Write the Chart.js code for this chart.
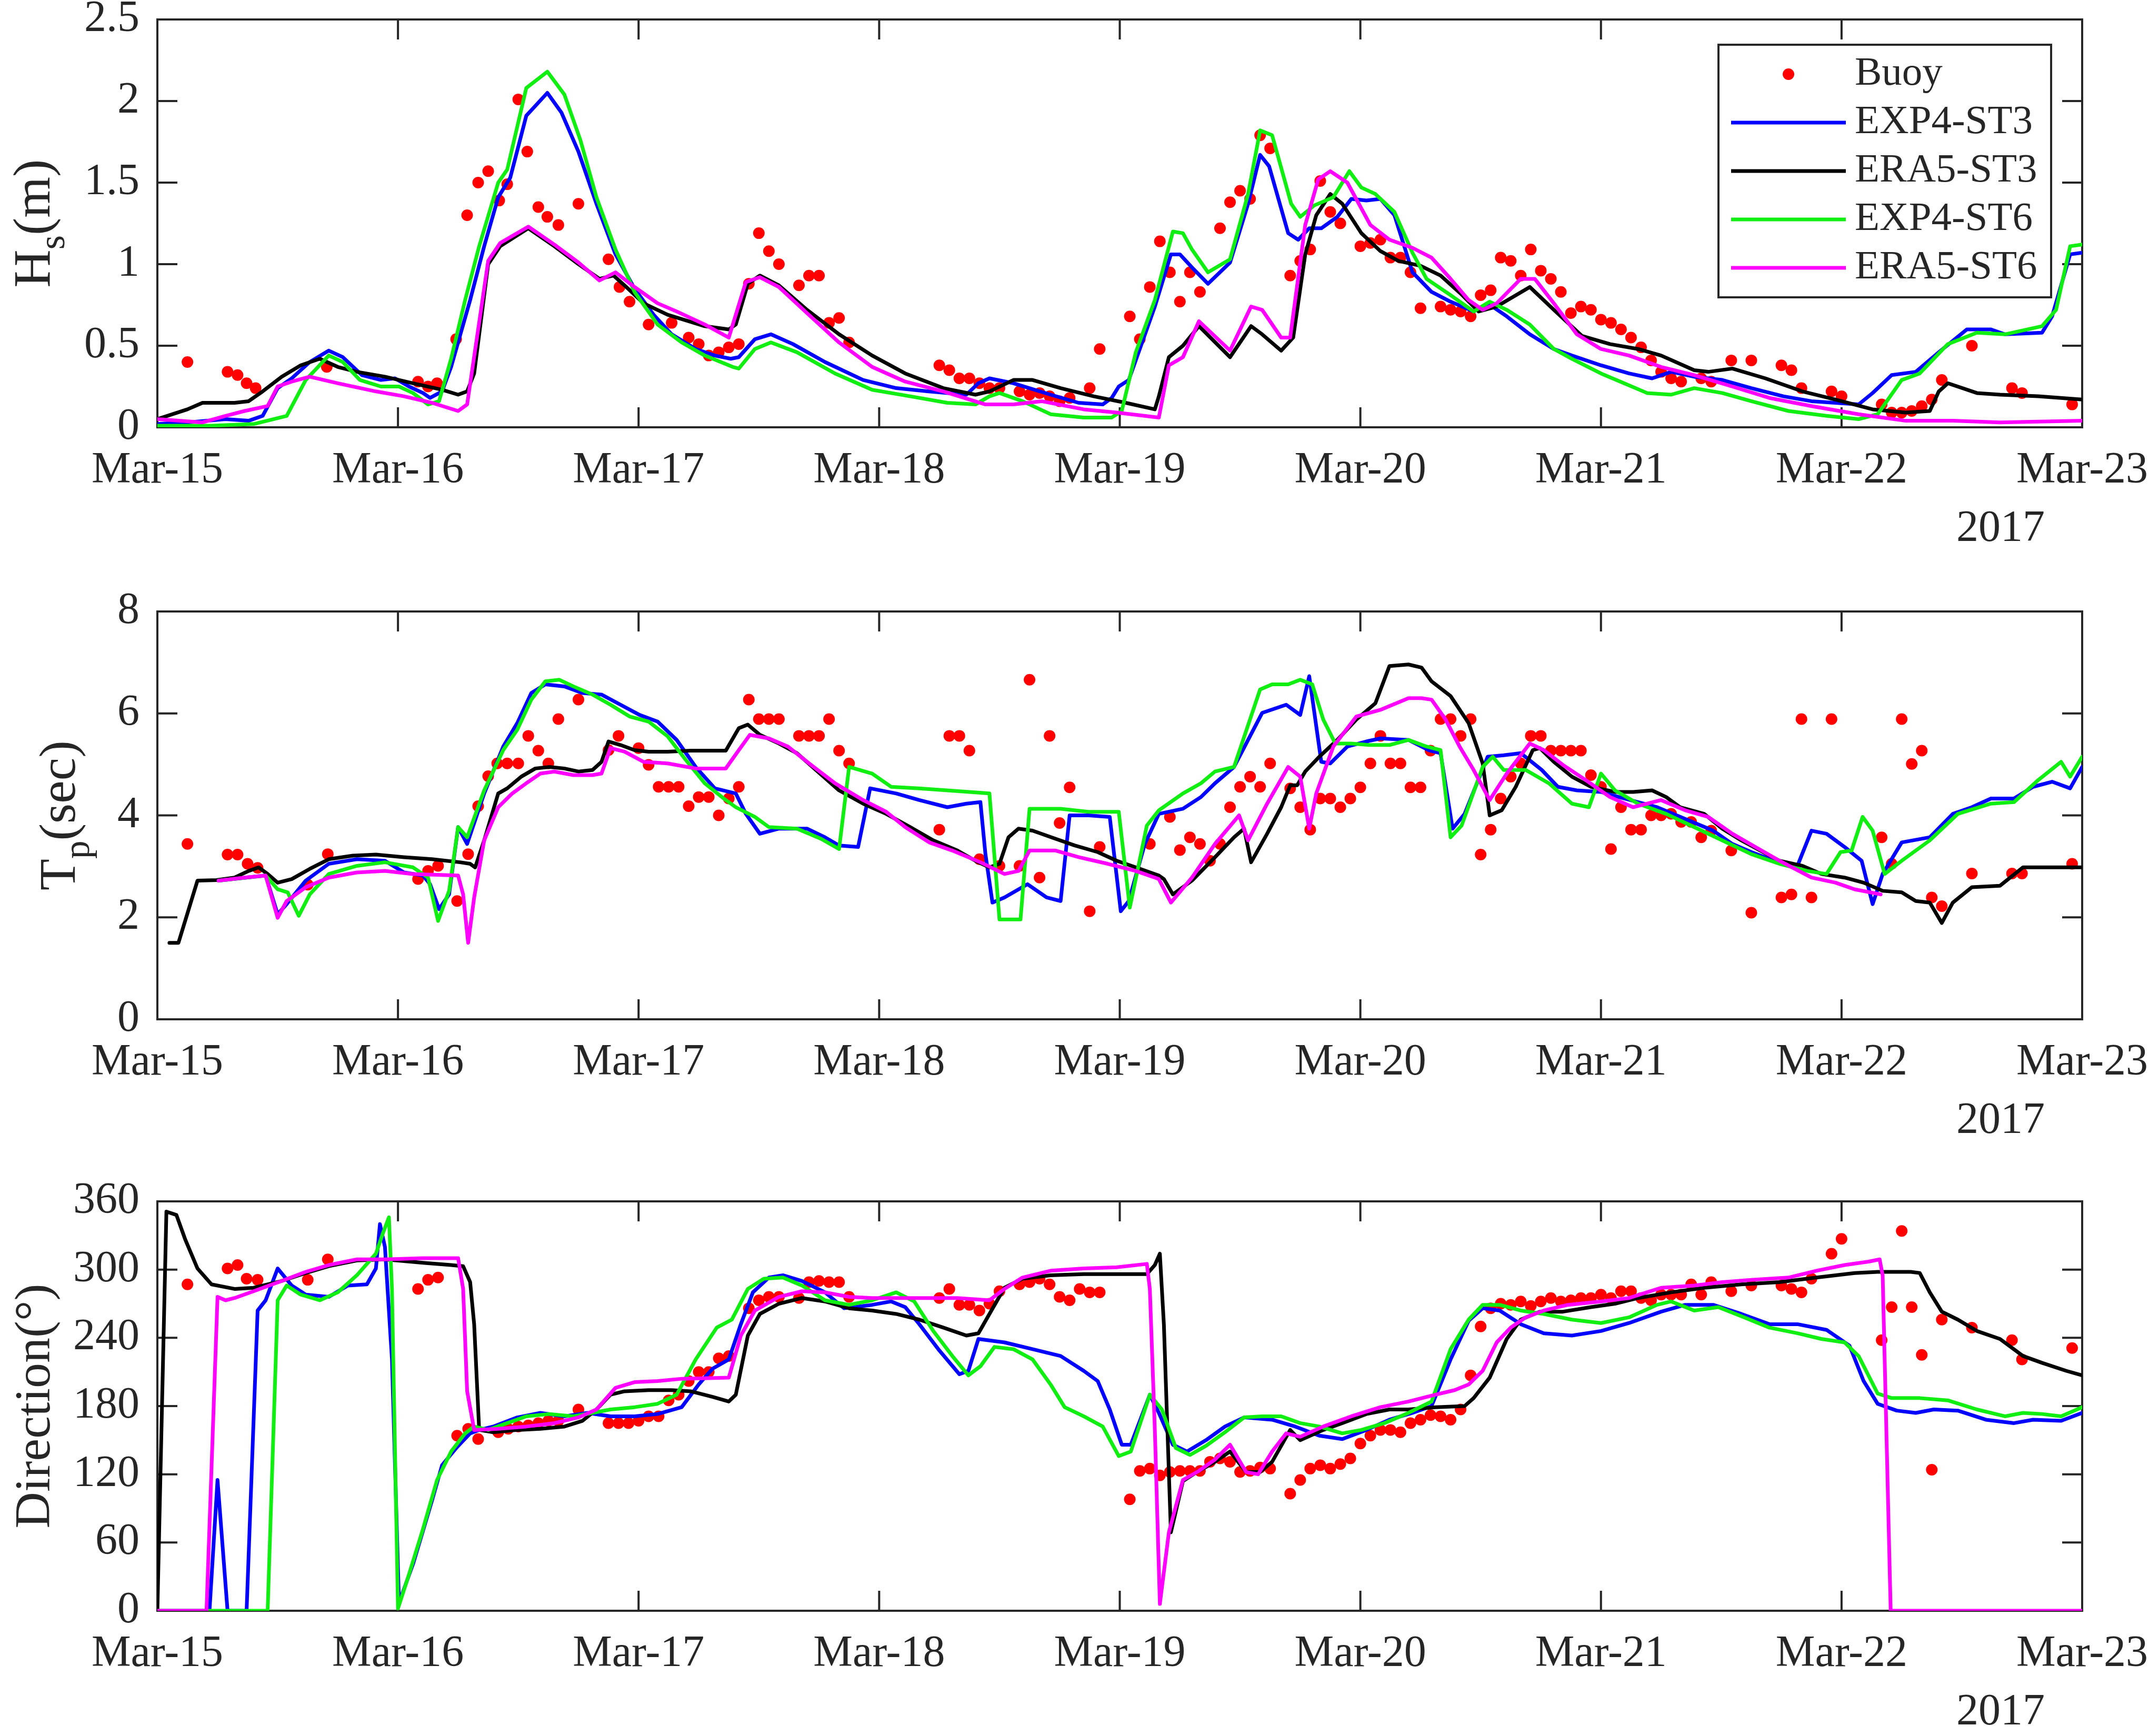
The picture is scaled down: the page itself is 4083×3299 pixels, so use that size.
<!DOCTYPE html>
<html><head><meta charset="utf-8">
<script src="https://cdn.jsdelivr.net/npm/chart.js@4.4.1/dist/chart.umd.min.js"></script>
<style>
html,body{margin:0;padding:0;background:#fff;}
body{width:4083px;height:3299px;position:relative;overflow:hidden;font-family:"Liberation Serif","DejaVu Serif",serif;}
canvas{position:absolute;left:0;}
</style></head><body>
<canvas id="c1" width="4083" height="1124" style="top:0px;width:4083px;height:1124px"></canvas>
<canvas id="c2" width="4083" height="1124" style="top:1124px;width:4083px;height:1124px"></canvas>
<canvas id="c3" width="4083" height="1051" style="top:2248px;width:4083px;height:1051px"></canvas>
<script>
// ---- tick labels / names ----
const dayLabels = ['Mar-15','Mar-16','Mar-17','Mar-18','Mar-19','Mar-20','Mar-21','Mar-22','Mar-23'];
const yearLabel = '2017';
const seriesNames = ['Buoy','EXP4-ST3','ERA5-ST3','EXP4-ST6','ERA5-ST6'];
// time in hours since Mar-15 00:00, value

// ---- Panel 1: Hs (m) ----
const hsBuoy = [[3,0.40],[7,0.34],[8,0.32],[8.9,0.27],[9.8,0.24],[16.9,0.37],[26,0.28],[27,0.25],[27.9,0.27],[29.8,0.54],[30.9,1.30],[32,1.50],[33,1.57],[34.1,1.39],[34.9,1.49],[36,2.01],[36.9,1.69],[38,1.35],[38.9,1.29],[40,1.24],[42,1.37],[45,1.03],[46.1,0.86],[47.1,0.77],[49,0.63],[51.3,0.64],[53,0.55],[54,0.51],[55,0.44],[56,0.46],[57,0.49],[58,0.51],[59,0.88],[60,1.19],[61,1.08],[62,1.0],[64,0.87],[65,0.93],[66,0.93],[67,0.64],[68,0.67],[69,0.52],[78,0.38],[79,0.35],[80,0.30],[81,0.30],[82,0.27],[83,0.24],[84,0.24],[86,0.22],[87,0.20],[88,0.21],[89,0.19],[90,0.16],[91,0.18],[93,0.24],[94,0.48],[97,0.68],[98,0.54],[99,0.86],[100,1.14],[101,0.95],[102,0.77],[103,0.95],[104,0.83],[106,1.22],[107,1.38],[108,1.45],[109,1.40],[110,1.79],[111,1.71],[113,0.93],[114,1.02],[115,1.09],[116,1.51],[117,1.32],[118,1.25],[120,1.11],[121,1.13],[122,1.15],[123,1.04],[124,1.04],[125,0.95],[126,0.73],[128,0.74],[129,0.72],[130,0.71],[131,0.68],[132,0.81],[133,0.84],[134,1.04],[135,1.02],[136,0.93],[137,1.09],[138,0.96],[139,0.91],[140,0.83],[141,0.70],[142,0.74],[143,0.72],[144,0.66],[145,0.64],[146,0.60],[147,0.55],[148,0.49],[149,0.41],[150,0.34],[151,0.30],[152,0.28],[154,0.30],[155,0.28],[157,0.41],[159,0.41],[162,0.38],[163,0.35],[164,0.24],[167,0.22],[168,0.19],[172,0.14],[173,0.09],[174,0.09],[175,0.10],[176,0.13],[177,0.17],[178,0.29],[181,0.50],[185,0.24],[186,0.21],[191,0.14]];
const hsExp4St3 = [[0,0.02],[3,0.03],[6.8,0.05],[9.1,0.04],[10.5,0.07],[12,0.24],[13.4,0.30],[15.2,0.40],[17.1,0.47],[18.5,0.43],[20.4,0.32],[22.3,0.29],[23.7,0.30],[25.1,0.25],[26.5,0.21],[27.2,0.18],[28.4,0.22],[29.3,0.37],[31.2,0.78],[32.6,1.11],[34,1.41],[35.2,1.53],[36.8,1.91],[38.9,2.05],[40.3,1.93],[42,1.69],[43.8,1.37],[45.7,1.06],[47.6,0.85],[49.5,0.69],[51.3,0.57],[53.7,0.48],[55.6,0.44],[57.2,0.42],[58,0.43],[59.6,0.54],[61.2,0.57],[63.4,0.51],[66.6,0.40],[70.4,0.29],[73.7,0.24],[76.9,0.22],[80.7,0.20],[81.9,0.27],[83,0.30],[85.4,0.27],[89.1,0.20],[91.9,0.15],[94.3,0.14],[95.2,0.18],[95.9,0.25],[96.9,0.29],[99.5,0.74],[101.1,1.06],[102,1.06],[103.2,0.98],[104.8,0.88],[107,1.01],[108.8,1.37],[110,1.67],[110.9,1.60],[112.8,1.19],[113.8,1.15],[114.9,1.22],[116.1,1.22],[117.7,1.29],[119.1,1.40],[120.6,1.39],[122,1.40],[123.4,1.30],[125.2,0.95],[127.1,0.83],[129,0.77],[131.3,0.71],[132.7,0.76],[134.6,0.68],[136.9,0.57],[139.3,0.48],[141.1,0.44],[144,0.38],[146.8,0.33],[149.1,0.30],[151,0.34],[153.3,0.31],[156.1,0.29],[159,0.24],[162.2,0.19],[165,0.16],[169.7,0.14],[171.1,0.21],[173,0.32],[175.4,0.34],[177.7,0.46],[180.5,0.60],[182.9,0.60],[184.3,0.57],[188,0.58],[189,0.68],[190.8,1.06],[192,1.07]];
const hsEra5St3 = [[0,0.05],[3,0.11],[4.5,0.15],[7.7,0.15],[9.1,0.16],[10.5,0.22],[12.4,0.31],[14.3,0.38],[16.2,0.42],[18,0.37],[19.9,0.34],[22.7,0.31],[25.5,0.27],[28.4,0.23],[30,0.20],[30.9,0.22],[31.6,0.33],[33,1.0],[34.2,1.11],[37,1.22],[39.6,1.11],[42,1.0],[44.1,0.91],[45.5,0.93],[46.6,0.87],[48.5,0.76],[50.9,0.69],[54.6,0.62],[57,0.60],[57.7,0.63],[58.9,0.88],[60.1,0.93],[62,0.87],[64.8,0.72],[68,0.57],[71.3,0.44],[74.6,0.33],[78.4,0.24],[81.6,0.20],[83,0.22],[85.4,0.29],[87.3,0.29],[90.1,0.24],[93.4,0.19],[96.6,0.15],[99.5,0.11],[99.9,0.19],[100.9,0.43],[102.3,0.50],[103.9,0.62],[107,0.43],[109.1,0.62],[110.2,0.57],[112.1,0.47],[113.3,0.55],[114.5,1.06],[115.6,1.30],[117,1.43],[118.2,1.37],[120.1,1.19],[122,1.08],[123.8,1.02],[126,0.99],[128,0.93],[130,0.82],[131.8,0.71],[133.6,0.74],[136.9,0.86],[139.3,0.72],[142.1,0.56],[144.9,0.51],[147.7,0.48],[150,0.44],[153.3,0.35],[154.7,0.34],[157.1,0.36],[160.4,0.30],[164.1,0.22],[167.4,0.17],[171.1,0.11],[174.4,0.09],[176.8,0.10],[177.7,0.22],[178.6,0.27],[181.5,0.21],[183.8,0.20],[187.6,0.19],[192,0.17]];
const hsExp4St6 = [[0,0.01],[5.4,0.01],[9.6,0.02],[12.9,0.07],[14.8,0.29],[17.1,0.44],[18.5,0.40],[20.2,0.29],[22.3,0.25],[24.1,0.25],[25.5,0.21],[27,0.14],[28.1,0.16],[29.3,0.42],[30.7,0.78],[32.1,1.11],[34,1.50],[34.9,1.58],[36.8,2.08],[38.9,2.18],[40.6,2.04],[42.2,1.76],[43.8,1.41],[45.7,1.09],[47.6,0.83],[49.9,0.63],[52.3,0.52],[54.6,0.44],[57.4,0.37],[58,0.36],[59.6,0.48],[61.2,0.52],[63.8,0.46],[67.6,0.33],[71.3,0.23],[75.1,0.19],[78.8,0.15],[81.6,0.14],[83,0.19],[84,0.21],[86.3,0.16],[89.1,0.08],[92.4,0.06],[95.2,0.06],[96.2,0.10],[97.6,0.46],[99.5,0.78],[101.3,1.20],[102.3,1.19],[103.2,1.09],[104.8,0.95],[107,1.03],[108.8,1.43],[110,1.82],[111.2,1.79],[113.1,1.37],[114,1.29],[115.4,1.36],[117.3,1.41],[118.9,1.57],[120.1,1.47],[121.5,1.43],[123.4,1.32],[125.2,1.07],[126.6,0.91],[129,0.81],[131.3,0.71],[132.9,0.77],[134.6,0.72],[136.9,0.63],[139.3,0.48],[141.1,0.42],[144,0.33],[146.3,0.27],[148.6,0.21],[151,0.20],[153.3,0.24],[156.1,0.21],[159,0.16],[162.7,0.10],[166.5,0.07],[169.7,0.05],[171.6,0.08],[174,0.29],[175.8,0.33],[178.6,0.51],[181.5,0.58],[184.3,0.57],[188,0.62],[189.4,0.72],[190.8,1.11],[192,1.12]];
const hsEra5St6 = [[0,0.05],[4.5,0.03],[6.8,0.07],[8.7,0.10],[11,0.13],[12,0.25],[13.4,0.28],[15.2,0.31],[18,0.27],[21.8,0.22],[24.6,0.19],[27.4,0.15],[30,0.10],[30.9,0.14],[33,1.02],[34.2,1.13],[37,1.23],[39.6,1.12],[42,1.01],[44.1,0.90],[45.7,0.95],[47.6,0.86],[49.9,0.76],[51.8,0.71],[54.6,0.63],[57,0.55],[58.7,0.89],[60.1,0.92],[62,0.86],[64.8,0.70],[68,0.52],[71.3,0.37],[74.6,0.28],[78.4,0.22],[82.6,0.14],[85.4,0.14],[88.2,0.16],[92.4,0.11],[95.7,0.09],[99.9,0.06],[100.9,0.38],[102.3,0.43],[103.9,0.65],[107,0.47],[109.1,0.74],[110.2,0.72],[112.1,0.55],[113,0.55],[114.5,1.24],[115.8,1.52],[117,1.57],[118.7,1.50],[121,1.24],[122.9,1.15],[125.2,1.10],[127.1,1.04],[129,0.91],[130.8,0.78],[132.2,0.72],[133.6,0.76],[136,0.91],[137.4,0.91],[139.3,0.76],[141.6,0.57],[144,0.48],[146.8,0.44],[150,0.37],[153.3,0.32],[157.1,0.25],[160.8,0.18],[165,0.13],[169.7,0.08],[174.4,0.04],[179.1,0.04],[183.8,0.03],[192,0.04]];

// ---- Panel 2: Tp (sec) ----
const tpBuoy = [[3,3.44],[7,3.23],[8,3.23],[9,3.05],[10,2.97],[15,2.64],[17,3.24],[26,2.75],[27,2.91],[28,3.01],[29.9,2.32],[31,3.24],[32,4.18],[33,4.77],[33.9,5.02],[34.9,5.02],[36,5.02],[37,5.56],[38,5.27],[39,5.02],[40,5.89],[42,6.27],[45,5.28],[46,5.56],[48,5.32],[49,4.99],[50,4.56],[51,4.56],[52,4.56],[53,4.18],[54,4.36],[55,4.36],[56,4.0],[57,4.33],[58,4.56],[59,6.27],[60,5.89],[61,5.89],[62,5.89],[64,5.56],[65,5.56],[66,5.56],[67,5.89],[68,5.27],[69,5.02],[78,3.72],[79,5.56],[80,5.56],[81,5.27],[82,3.14],[84,3.01],[86,3.01],[87,6.66],[88,2.78],[89,5.56],[90,3.85],[91,4.55],[93,2.12],[94,3.38],[99,3.44],[101,3.97],[102,3.32],[103,3.57],[104,3.44],[105,3.11],[106,3.44],[107,4.16],[108,4.56],[109,4.76],[110,4.56],[111,5.02],[113,4.53],[114,4.16],[115,3.72],[116,4.33],[117,4.33],[118,4.16],[119,4.33],[120,4.55],[121,5.02],[122,5.56],[123,5.02],[124,5.02],[125,4.55],[126,4.55],[127,5.27],[128,5.89],[129,5.89],[130,5.56],[131,5.89],[132,3.23],[133,3.72],[134,4.33],[135,4.76],[136,5.02],[137,5.56],[138,5.56],[139,5.27],[140,5.27],[141,5.27],[142,5.27],[143,4.79],[144,4.56],[145,3.34],[146,4.16],[147,3.72],[148,3.72],[149,4.0],[150,4.0],[151,4.03],[152,3.87],[153,3.87],[154,3.57],[155,3.70],[157,3.31],[159,2.09],[162,2.39],[163,2.45],[164,5.89],[165,2.39],[167,5.89],[172,3.57],[173,3.05],[174,5.89],[175,5.01],[176,5.27],[177,2.39],[178,2.22],[181,2.86],[185,2.86],[186,2.86],[191,3.05]];
const tpExp4St3 = [[6.1,2.72],[10.8,2.82],[12,2.06],[12.9,2.26],[14.8,2.72],[17.1,3.05],[19.9,3.14],[22.7,3.11],[24.6,2.88],[26.5,2.82],[27.2,2.65],[28.1,2.16],[29.1,2.45],[30,3.77],[30.9,3.44],[32.6,4.43],[34.5,5.35],[35.9,5.81],[37.3,6.40],[38.7,6.57],[40.6,6.53],[42.4,6.40],[44.3,6.37],[46.2,6.17],[48.1,5.97],[49.9,5.84],[51.8,5.48],[53.7,4.95],[55.6,4.53],[57.7,4.43],[58.7,4.03],[60.1,3.64],[62,3.74],[64.8,3.74],[66.6,3.57],[68,3.41],[69.9,3.38],[71.1,4.53],[73.7,4.43],[76,4.30],[78.8,4.16],[80.7,4.23],[82.1,4.26],[82.6,3.24],[83.3,2.29],[84.5,2.39],[86.8,2.65],[88.7,2.39],[90.1,2.32],[91,4.0],[92.9,4.0],[95,3.97],[96.1,2.12],[96.9,2.32],[98.5,3.44],[99.9,4.03],[102.3,4.13],[104.1,4.36],[105.5,4.63],[107.4,4.95],[110.2,6.01],[112.6,6.17],[114,5.97],[114.9,6.73],[116.1,5.05],[117,5.02],[118.7,5.35],[120.6,5.45],[122,5.51],[124.8,5.48],[126.8,5.28],[128,5.22],[129.2,3.74],[130.4,4.03],[132.7,5.15],[134.3,5.18],[136,5.22],[138.1,4.89],[139.7,4.56],[141.6,4.49],[144,4.46],[145.8,4.36],[147.7,4.26],[149.6,4.16],[152.4,3.93],[155.2,3.70],[157.1,3.44],[159,3.28],[161.3,3.11],[163.6,3.01],[165,3.70],[166.5,3.64],[168.3,3.38],[170,3.11],[171.1,2.26],[172.1,2.85],[174,3.47],[176.8,3.57],[179.1,4.03],[181,4.16],[182.9,4.33],[185.2,4.33],[187.1,4.56],[189,4.66],[190.8,4.53],[192,4.95]];
const tpEra5St3 = [[1.2,1.50],[2.1,1.50],[4,2.72],[5.9,2.73],[7.7,2.78],[9.1,2.91],[10.1,2.98],[11,2.85],[12,2.68],[13.4,2.75],[15.2,2.95],[17.1,3.14],[19.5,3.21],[21.8,3.23],[24.6,3.18],[27.4,3.14],[30.2,3.08],[31.2,3.05],[31.7,2.98],[32.6,3.51],[34,4.43],[34.9,4.53],[36.3,4.76],[37.7,4.92],[39.1,4.95],[40.6,4.92],[42,4.86],[43.4,4.89],[44.3,5.05],[45,5.45],[46.2,5.38],[47.6,5.28],[49,5.25],[50.9,5.25],[53.2,5.27],[56.7,5.27],[58,5.71],[58.9,5.78],[60.1,5.58],[62,5.41],[63.8,5.22],[65.7,4.89],[68,4.49],[70.4,4.23],[72.7,4.03],[75.1,3.77],[77.4,3.51],[79.8,3.31],[81.6,3.11],[83,2.98],[84,3.05],[84.9,3.57],[85.9,3.74],[87.3,3.70],[89.6,3.54],[91.5,3.41],[93.8,3.28],[95.7,3.11],[97.6,2.98],[99.9,2.82],[100.4,2.75],[101.3,2.45],[103.2,2.72],[105.5,3.18],[107.4,3.57],[108.4,3.74],[109.1,3.08],[110.7,3.64],[112.1,4.16],[113,4.59],[113.7,4.59],[114.5,4.86],[115.9,5.15],[117.7,5.48],[119.6,5.88],[121.5,6.20],[122.9,6.93],[124.8,6.96],[126.1,6.90],[127.1,6.63],[129,6.34],[130.8,5.81],[132.2,5.02],[132.9,4.0],[134.1,4.10],[135.5,4.56],[137.2,5.28],[137.9,5.32],[139.3,5.05],[141.1,4.76],[143,4.56],[145.4,4.46],[147.2,4.46],[149.1,4.49],[150.5,4.36],[151.9,4.16],[154.3,4.03],[156.1,3.74],[158,3.51],[159.9,3.31],[161.8,3.11],[164.1,3.01],[166,2.85],[168.3,2.78],[170.2,2.68],[172.1,2.52],[174,2.49],[175.4,2.32],[176.8,2.29],[178,1.89],[179.1,2.29],[181,2.59],[183.8,2.62],[186.1,2.98],[188.5,2.98],[192,2.98]];
const tpExp4St6 = [[6.1,2.72],[10.8,2.82],[12,2.55],[13,2.49],[14.1,2.03],[15.2,2.45],[17.1,2.85],[19.9,3.01],[22.7,3.08],[25.5,2.98],[27,2.78],[28,1.93],[29.1,2.52],[30,3.77],[30.9,3.57],[32.6,4.49],[34.5,5.28],[35.9,5.68],[37.3,6.27],[38.7,6.63],[40.1,6.66],[41.5,6.53],[43.4,6.37],[45.2,6.17],[47.1,5.94],[49,5.84],[50.9,5.55],[52.7,5.09],[54.6,4.63],[56.5,4.33],[57.7,4.16],[59.6,3.97],[61,3.77],[63.8,3.74],[66.2,3.54],[68,3.34],[69,4.95],[71.3,4.82],[73.2,4.56],[76,4.53],[78.8,4.49],[83,4.43],[84,1.96],[86.1,1.96],[87,4.13],[90.1,4.13],[92.9,4.07],[95.9,4.07],[97,2.19],[98.7,3.80],[99.9,4.10],[102.3,4.43],[104.1,4.63],[105.5,4.86],[107.4,4.95],[110,6.47],[111.2,6.57],[112.8,6.57],[114,6.66],[115.2,6.57],[116.3,5.88],[117.5,5.41],[119.1,5.41],[120.9,5.38],[122.9,5.38],[124.8,5.48],[126.6,5.35],[128,5.28],[129,3.57],[130.1,3.80],[132.2,4.95],[133.2,5.15],[134.3,4.89],[136.5,4.89],[138.8,4.63],[141.1,4.23],[142.8,4.16],[144,4.82],[145.4,4.49],[147.7,4.23],[150.5,4.03],[153.3,3.77],[156.1,3.51],[159,3.24],[161.8,3.05],[164.6,2.91],[166.5,2.85],[167.9,3.28],[169,3.31],[170.1,3.97],[171.1,3.70],[172.3,2.85],[174,3.11],[176.8,3.51],[179.6,4.03],[182.9,4.23],[185.2,4.26],[187.6,4.69],[189.9,5.05],[190.8,4.76],[192,5.15]];
const tpEra5St6 = [[6.1,2.72],[8.7,2.78],[10.8,2.82],[12,1.99],[12.9,2.32],[14.8,2.59],[17.1,2.78],[19.9,2.88],[22.7,2.91],[25.5,2.85],[30,2.82],[30.5,2.45],[31,1.50],[31.6,2.39],[32.6,3.51],[34,4.16],[35.4,4.43],[36.8,4.63],[38.2,4.82],[39.6,4.86],[41.5,4.79],[43.4,4.79],[44.3,4.82],[45.2,5.32],[46.6,5.25],[48.5,5.05],[50.9,5.02],[53.7,4.92],[56.7,4.92],[58,5.28],[59.1,5.58],[61,5.51],[62.9,5.35],[65.2,4.99],[67.6,4.63],[70.4,4.30],[72.7,4.07],[74.6,3.77],[77,3.47],[79.3,3.31],[82.1,3.08],[84.5,2.85],[85.9,2.91],[87,3.31],[89.6,3.31],[91.9,3.18],[94.8,3.05],[97.6,2.91],[99.5,2.78],[99.9,2.75],[101.1,2.29],[103.2,2.78],[105.5,3.44],[107.9,4.0],[108.8,3.51],[110.7,4.23],[112.8,4.95],[114,4.76],[114.9,3.74],[115.6,4.43],[117.3,5.35],[119.6,5.94],[122,6.07],[124.8,6.30],[126.1,6.30],[127.1,6.27],[128.5,5.88],[129.9,5.35],[131.3,4.89],[132.9,4.30],[134.6,4.82],[136.9,5.41],[138.3,5.28],[140.2,4.99],[142.5,4.69],[144.9,4.36],[147.2,4.16],[150,4.30],[152.4,4.10],[154.7,3.97],[157.1,3.64],[159.4,3.38],[161.8,3.11],[165,2.78],[167.4,2.68],[169.3,2.55],[171.9,2.45]];

// ---- Panel 3: Direction (deg) ----
const dirBuoy = [[3,287],[7,301],[8,304],[8.9,292],[10,291],[15,291],[17,309],[26,283],[27,291],[28,293],[29.9,154],[31,160],[32,151],[34,157],[35,160],[36,162],[37,163],[38,165],[39,167],[40,167],[42,177],[45,165],[46,165],[47,165],[48,167],[49,171],[50,171],[51,185],[52,190],[53,202],[54,210],[55,210],[56,222],[57,224],[59,266],[60,273],[61,276],[62,276],[64,275],[65,289],[66,290],[67,289],[68,289],[69,276],[78,275],[79,283],[80,269],[81,269],[82,264],[83,270],[84,281],[86,287],[87,289],[88,292],[89,287],[90,276],[91,273],[92,283],[93,280],[94,280],[97,98],[98,123],[99,125],[100,119],[101,122],[102,123],[103,123],[104,123],[105,131],[106,134],[107,131],[108,122],[109,123],[110,126],[111,125],[113,103],[114,115],[115,125],[116,128],[117,125],[118,129],[119,134],[120,147],[121,154],[122,159],[123,159],[124,157],[125,165],[126,168],[127,172],[128,171],[129,168],[130,177],[131,207],[132,250],[133,266],[134,270],[135,269],[136,272],[137,268],[138,272],[139,275],[140,272],[141,273],[142,275],[143,275],[144,278],[145,275],[146,281],[147,281],[148,275],[149,273],[150,278],[151,278],[152,278],[153,287],[154,278],[155,289],[157,281],[159,286],[162,286],[163,283],[164,280],[165,292],[167,314],[168,327],[172,238],[173,267],[174,334],[175,267],[176,225],[177,124],[178,256],[181,249],[185,238],[186,221],[191,231]];
const dirExp4St3 = [[0,0],[5.2,0],[6,115],[7,0],[8.9,0],[10,264],[10.8,273],[12,301],[13.4,286],[14.8,278],[17.1,276],[19,286],[20.9,287],[21.8,301],[22.2,340],[22.7,320],[23.4,221],[24.1,7],[25.5,41],[27.4,97],[28.4,128],[29.8,143],[31.2,156],[32.1,159],[33.5,162],[35.9,170],[38.2,174],[40.6,171],[42.9,174],[45.2,171],[47.6,171],[49.9,173],[52.3,179],[54,199],[55.4,213],[57,221],[58.2,252],[59.4,280],[61,293],[62.4,295],[64.3,290],[66.6,280],[68.5,266],[71.3,269],[73.2,272],[74.6,267],[76,252],[77.9,230],[80,208],[80.9,211],[81.9,239],[84.5,236],[87.3,230],[90.1,224],[92.4,211],[93.8,202],[95,177],[96.2,146],[97.1,146],[99,190],[99.9,174],[101.3,146],[102.7,140],[104.6,150],[106.5,162],[108.4,170],[111.2,168],[113.5,162],[115.9,154],[118.2,151],[120.6,159],[122.9,168],[125.2,174],[127.1,180],[129,221],[130.8,255],[132.2,266],[133.9,264],[136,252],[138.3,244],[141.1,242],[144,246],[146.8,253],[150,263],[152.4,269],[155.2,269],[158,261],[160.8,252],[163.6,252],[166.5,247],[168.8,233],[170.2,202],[171.6,182],[173.5,176],[175.4,174],[177.2,177],[179.6,176],[182.4,168],[185.2,165],[187.1,168],[189.9,167],[192,174]];
const dirEra5St3 = [[0,0],[0.9,351],[1.9,348],[2.8,326],[4,301],[5.4,287],[7.7,283],[9.6,284],[12.4,290],[14.8,297],[17.1,303],[19.9,308],[22.7,309],[26.5,306],[29.3,304],[30.5,303],[31.2,289],[31.6,252],[32.1,159],[33.5,157],[35.9,159],[38.2,160],[40.6,162],[42.4,167],[43.8,177],[45.2,190],[46.6,193],[49,194],[51.3,194],[53.2,193],[55.4,188],[57,184],[57.7,190],[58.9,242],[60.1,261],[62,270],[64.3,275],[66.6,272],[69,266],[71.3,264],[73.7,261],[76,256],[78.4,249],[80.7,242],[81.9,244],[83,261],[84.5,284],[86.3,292],[89.1,295],[92.4,296],[96.6,296],[98.7,296],[99.5,304],[100,314],[100.4,252],[101.1,69],[102.3,114],[103.7,122],[105.5,131],[107,140],[108.6,122],[110,122],[111.2,131],[113,159],[114,150],[116.3,159],[118.2,165],[120.6,173],[122.9,177],[124.8,177],[127.5,179],[130.4,180],[131.3,187],[132.9,205],[134.6,239],[136,256],[137.9,263],[140.2,263],[143,267],[145.4,270],[147.7,275],[151,280],[154.3,284],[158,287],[161.8,289],[165.5,293],[169.3,297],[171.6,298],[174.9,298],[175.8,297],[176.8,280],[178,263],[179.6,256],[181.5,246],[183.8,239],[186.1,224],[188,218],[190.4,211],[192,207]];
const dirExp4St6 = [[0,0],[11,0],[12,273],[12.9,286],[14.3,278],[16.2,273],[18,280],[19.9,295],[21.8,314],[22.5,332],[23.1,346],[23.4,283],[24,2],[25.1,32],[26.5,72],[27.9,115],[29.3,140],[30.7,156],[31.6,162],[33,159],[34.9,165],[36.8,171],[39.1,173],[41.5,171],[43.4,174],[45.2,177],[47.6,179],[49.9,182],[51.8,190],[53.7,221],[55.8,249],[57.3,256],[58.9,283],[60.5,292],[62.4,293],[64.3,286],[66.6,273],[69,269],[71.3,273],[73.7,280],[75.5,272],[77.4,246],[79.3,224],[80.9,207],[82.1,215],[83.5,232],[85.4,230],[87.3,221],[89.1,199],[90.5,179],[92.4,171],[94.3,162],[95.9,136],[97.1,140],[99,190],[100.2,177],[101.6,143],[103,137],[104.6,145],[106.5,157],[108.4,170],[110.2,171],[112.1,171],[114,165],[115.9,162],[118.2,156],[120.1,159],[122.4,165],[124.8,174],[127.1,184],[129,230],[130.8,256],[132.2,269],[133.9,269],[136,264],[138.3,261],[141.1,256],[144,253],[146.8,258],[149.6,269],[151,272],[153.3,264],[155.7,267],[158,259],[160.8,249],[163.6,244],[166,239],[168.3,236],[169.7,224],[171.6,191],[173,187],[175.8,187],[178.6,185],[181.5,177],[184.3,171],[186.1,174],[188,173],[189.9,171],[192,179]];
const dirEra5St6 = [[0,0],[4.9,0],[6,276],[6.8,273],[7.7,275],[9.6,281],[12.4,290],[14.8,298],[17.1,304],[19.9,309],[22.7,309],[26.5,310],[30,310],[30.5,283],[30.9,193],[31.6,159],[34,160],[36.8,162],[39.6,165],[42,170],[43.8,177],[45.7,196],[47.6,201],[49.9,202],[52.3,204],[57,205],[58.2,242],[59.6,264],[62,276],[64.3,281],[66.6,280],[69,276],[71.3,275],[76,275],[79.8,275],[83,273],[84.5,283],[86.3,293],[89.1,299],[92.4,301],[95.7,302],[98.7,305],[99,283],[99.5,159],[100,6],[100.9,69],[102.3,115],[103.9,123],[105.5,133],[107,146],[108.6,122],[109.8,120],[111.2,140],[112.6,156],[114,153],[116.3,162],[119.1,171],[122,179],[124.8,184],[127.5,190],[129.4,194],[130.8,199],[132.2,211],[133.6,236],[135,249],[136.5,258],[138.3,264],[140.7,269],[144,272],[146.8,275],[150,284],[153.3,286],[156.1,289],[159,291],[162.7,293],[165.5,299],[168.3,304],[170.7,307],[171.8,309],[172.1,295],[172.9,0],[192,0]];

// ---- rendering ----
const FONT = '"Liberation Serif", "DejaVu Serif", serif';
const TXT = '#262626';
Chart.defaults.font.family = FONT;

const toXY = arr => arr.map(p => ({x: p[0], y: p[1]}));

const framePlugin = {
  id: 'frame',
  beforeDatasetsDraw(chart) {
    const {ctx, chartArea: a, scales: {x, y}} = chart;
    ctx.save();
    ctx.strokeStyle = TXT;
    ctx.lineWidth = 4;
    ctx.strokeRect(a.left, a.top, a.right - a.left, a.bottom - a.top);
    const L = 38;
    ctx.beginPath();
    x.ticks.forEach(t => {
      const px = x.getPixelForValue(t.value);
      ctx.moveTo(px, a.bottom); ctx.lineTo(px, a.bottom - L);
      ctx.moveTo(px, a.top); ctx.lineTo(px, a.top + L);
    });
    y.ticks.forEach(t => {
      const py = y.getPixelForValue(t.value);
      ctx.moveTo(a.left, py); ctx.lineTo(a.left + L, py);
      ctx.moveTo(a.right, py); ctx.lineTo(a.right - L, py);
    });
    ctx.stroke();
    ctx.restore();
  }
};

const yTitlePlugin = {
  id: 'ytitle',
  afterDraw(chart, args, o) {
    const {ctx, chartArea: a} = chart;
    ctx.save();
    ctx.translate(a.left - o.offset, (a.top + a.bottom) / 2);
    ctx.rotate(-Math.PI / 2);
    ctx.fillStyle = TXT;
    ctx.textBaseline = 'alphabetic';
    ctx.textAlign = 'left';
    const main = o.size + 'px ' + FONT;
    const sub = Math.round(o.size * 0.7) + 'px ' + FONT;
    let total = 0;
    const widths = o.parts.map(p => {
      ctx.font = p.sub ? sub : main;
      const w = ctx.measureText(p.t).width; total += w; return w;
    });
    let x0 = -total / 2;
    o.parts.forEach((p, i) => {
      ctx.font = p.sub ? sub : main;
      ctx.fillText(p.t, x0, p.sub ? o.size * 0.28 : 0);
      x0 += widths[i];
    });
    ctx.restore();
  }
};

const yearPlugin = {
  id: 'year',
  afterDraw(chart, args, o) {
    const {ctx, chartArea: a} = chart;
    ctx.save();
    ctx.fillStyle = TXT;
    ctx.font = '84px ' + FONT;
    ctx.textAlign = 'center';
    ctx.textBaseline = 'alphabetic';
    ctx.fillText(o.text, a.right - 155, a.bottom + 216);
    ctx.restore();
  }
};

const boxLegendPlugin = {
  id: 'boxlegend',
  afterDatasetsDraw(chart, args, o) {
    if (!o.display) return;
    const {ctx} = chart;
    ctx.save();
    ctx.fillStyle = '#ffffff';
    ctx.fillRect(o.x, o.y, o.w, o.h);
    ctx.strokeStyle = TXT;
    ctx.lineWidth = 4;
    ctx.strokeRect(o.x, o.y, o.w, o.h);
    chart.data.datasets.forEach((ds, i) => {
      const cy = o.y + o.first + i * o.step;
      if (ds.showLine) {
        ctx.strokeStyle = ds.borderColor;
        ctx.lineWidth = ds.borderWidth;
        ctx.beginPath();
        ctx.moveTo(o.x + o.lx0, cy); ctx.lineTo(o.x + o.lx1, cy);
        ctx.stroke();
      } else {
        ctx.fillStyle = ds.pointBackgroundColor;
        ctx.beginPath();
        ctx.arc(o.x + (o.lx0 + o.lx1) / 2, cy, ds.pointRadius, 0, Math.PI * 2);
        ctx.fill();
      }
      ctx.fillStyle = TXT;
      ctx.font = o.size + 'px ' + FONT;
      ctx.textAlign = 'left';
      ctx.textBaseline = 'middle';
      ctx.fillText(ds.label, o.x + o.tx, cy);
    });
    ctx.restore();
  }
};

const charts = [];
function makePanel(id, s, cfg) {
  const colors = ['#ff0000', '#0000ff', '#000000', '#11ee11', '#ff00ff'];
  const orders = [5, 4, 3, 2, 1];
  const datasets = s.map((arr, i) => i === 0 ? {
    label: seriesNames[i], data: toXY(arr), showLine: false,
    pointRadius: 11, pointBackgroundColor: colors[i], pointBorderWidth: 0,
    backgroundColor: colors[i], borderColor: colors[i], order: orders[i]
  } : {
    label: seriesNames[i], data: toXY(arr), showLine: true, fill: false,
    pointRadius: 0, borderColor: colors[i], borderWidth: 7, tension: 0,
    borderJoinStyle: 'round', borderCapStyle: 'round', order: orders[i]
  });
  const canvas = document.getElementById(id);
  const xH = canvas.height - cfg.padTop - cfg.plotH;
  charts.push(new Chart(canvas, {
    type: 'scatter',
    data: {datasets},
    options: {
      responsive: false, animation: false, devicePixelRatio: 1, events: [],
      layout: {padding: {top: cfg.padTop, right: 127, left: 0, bottom: 0}},
      plugins: {
        legend: {display: false}, tooltip: {enabled: false},
        ytitle: cfg.title,
        year: {text: yearLabel},
        boxlegend: cfg.legend || {display: false}
      },
      scales: {
        x: {
          type: 'linear', min: 0, max: 192,
          grid: {display: false, drawTicks: false}, border: {display: false},
          ticks: {stepSize: 24, autoSkip: false, maxRotation: 0, minRotation: 0, padding: 33,
            color: TXT, font: {size: 84, family: FONT},
            callback: v => dayLabels[Math.round(v / 24)]},
          afterFit: sc => { sc.height = xH; sc.paddingLeft = 0; sc.paddingRight = 0; }
        },
        y: {
          type: 'linear', min: cfg.yMin, max: cfg.yMax,
          grid: {display: false, drawTicks: false}, border: {display: false},
          ticks: {stepSize: cfg.yStep, padding: 34, color: TXT, font: {size: 84, family: FONT},
            callback: v => String(Math.round(v * 100) / 100)},
          afterFit: sc => { sc.width = 299; sc.paddingTop = 0; sc.paddingBottom = 0; }
        }
      }
    },
    plugins: [framePlugin, boxLegendPlugin, yTitlePlugin, yearPlugin]
  }));
}

makePanel('c1', [hsBuoy, hsExp4St3, hsEra5St3, hsExp4St6, hsEra5St6], {
  padTop: 37, plotH: 775, yMin: 0, yMax: 2.5, yStep: 0.5,
  title: {parts: [{t: 'H'}, {t: 's', sub: true}, {t: '(m)'}], size: 100, offset: 205},
  legend: {display: true, x: 3265, y: 85, w: 632, h: 480, first: 56, step: 92, lx0: 24, lx1: 242, tx: 259, size: 77}
});
makePanel('c2', [tpBuoy, tpExp4St3, tpEra5St3, tpExp4St6, tpEra5St6], {
  padTop: 38, plotH: 775, yMin: 0, yMax: 8, yStep: 2,
  title: {parts: [{t: 'T'}, {t: 'p', sub: true}, {t: '(sec)'}], size: 98, offset: 157}
});
makePanel('c3', [dirBuoy, dirExp4St3, dirEra5St3, dirExp4St6, dirEra5St6], {
  padTop: 35, plotH: 778, yMin: 0, yMax: 360, yStep: 60,
  title: {parts: [{t: 'Direction(°)'}], size: 96, offset: 205}
});

if (document.fonts && document.fonts.load) {
  document.fonts.load('84px "Liberation Serif"').then(() => charts.forEach(c => c.update('none')), () => {});
}
</script></body></html>
